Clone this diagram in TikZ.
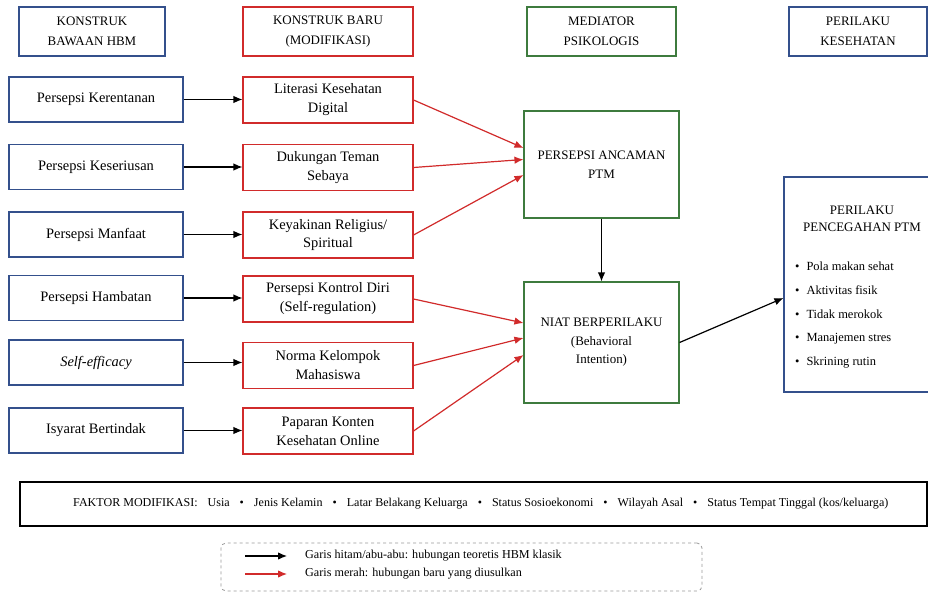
\documentclass[tikz,border=0pt]{standalone}
\usepackage{fontspec}
\setmainfont{Liberation Serif}
\usetikzlibrary{arrows.meta,calc}
\definecolor{cblue}{HTML}{34508C}
\definecolor{cred}{HTML}{D12B2B}
\definecolor{cgreen}{HTML}{3E7B3E}
\definecolor{cgray}{HTML}{9A9A9A}
\begin{document}
\begin{tikzpicture}[x=1bp,y=-1bp,
 box/.style={draw, line width=1.1bp, inner sep=2bp, align=center},
 hbox/.style={box, minimum height=49bp, font=\fontsize{13}{20}\selectfont},
 lbox/.style={box, draw=cblue, minimum width=174bp, minimum height=45bp, font=\fontsize{14.5}{19}\selectfont},
 rbox/.style={box, draw=cred, minimum width=170bp, minimum height=46bp, font=\fontsize{14.5}{19}\selectfont},
 mbox/.style={box, draw=cgreen, minimum width=155bp, font=\fontsize{13}{18.5}\selectfont},
 barr/.style={-{Latex[length=9bp,width=7.5bp]}, line width=1.2bp, black},
 rarr/.style={-{Latex[length=9bp,width=7.5bp]}, line width=1.2bp, cred},
]
\fill[white] (0,0) rectangle (928,592);
\useasboundingbox (0,0) rectangle (928,592);

% headers
\node[hbox, draw=cblue, minimum width=146bp] (h1) at (92,31.5) {KONSTRUK\\BAWAAN HBM};
\node[hbox, draw=cred, minimum width=170bp] (h2) at (328,31.5) {KONSTRUK BARU\\(MODIFIKASI)};
\node[hbox, draw=cgreen, minimum width=149bp] (h3) at (601.5,31.5) {MEDIATOR\\PSIKOLOGIS};
\node[hbox, draw=cblue, minimum width=138bp] (h4) at (858,31.5) {PERILAKU\\KESEHATAN};

% left column
\node[lbox] (l1) at (96,99.5) {Persepsi Kerentanan};
\node[lbox] (l2) at (96,167) {Persepsi Keseriusan};
\node[lbox] (l3) at (96,234.5) {Persepsi Manfaat};
\node[lbox] (l4) at (96,298) {Persepsi Hambatan};
\node[lbox] (l5) at (96,362.5) {\itshape Self-efficacy};
\node[lbox] (l6) at (96,430.5) {Isyarat Bertindak};

% red column
\node[rbox] (r1) at (328,100) {Literasi Kesehatan\\Digital};
\node[rbox] (r2) at (328,167.5) {Dukungan Teman\\Sebaya};
\node[rbox] (r3) at (328,235) {Keyakinan Religius/\\Spiritual};
\node[rbox] (r4) at (328,299) {Persepsi Kontrol Diri\\(Self-regulation)};
\node[rbox] (r5) at (328,365.5) {Norma Kelompok\\Mahasiswa};
\node[rbox] (r6) at (328,431) {Paparan Konten\\Kesehatan Online};

% mediators
\node[mbox, minimum height=107bp] (m1) at (601.5,164.5) {PERSEPSI ANCAMAN\\PTM};
\node[mbox, minimum height=121bp] (m2) at (601.5,342.5) {NIAT BERPERILAKU\\(Behavioral\\Intention)};

% outcome box (cut at right edge)
\begin{scope}
\clip (0,0) rectangle (928,592);
\node[draw=cblue, line width=1.1bp, minimum width=156bp, minimum height=215bp] (o) at (862,284.5) {};
\end{scope}
\node[align=center, font=\fontsize{13}{17}\selectfont] (ot) at (862,219) {PERILAKU\\PENCEGAHAN PTM};
\node[align=left, anchor=north west, inner sep=0pt, font=\fontsize{12.5}{23.7}\selectfont] (ol) at (795,262)
 {\textbullet\hspace{7bp}Pola makan sehat\\
  \textbullet\hspace{7bp}Aktivitas fisik\\
  \textbullet\hspace{7bp}Tidak merokok\\
  \textbullet\hspace{7bp}Manajemen stres\\
  \textbullet\hspace{7bp}Skrining rutin};

% black arrows left -> red
\foreach \i in {1,...,6} { \draw[barr] (l\i.east) -- (l\i.east -| r\i.west); }

% red arrows to mediators
\draw[rarr] (r1.east) -- ($(m1.west)+(0,-16.5)$);
\draw[rarr] (r2.east) -- ($(m1.west)+(0,-5)$);
\draw[rarr] (r3.east) -- ($(m1.west)+(0,10.5)$);
\draw[rarr] (r4.east) -- ($(m2.west)+(0,-19.5)$);
\draw[rarr] (r5.east) -- ($(m2.west)+(0,-4.5)$);
\draw[rarr] (r6.east) -- ($(m2.west)+(0,12.5)$);

\draw[barr] (m1.south) -- (m2.north);
\draw[barr] (m2.east) -- ($(o.west)+(0,13.5)$);

% modifying factors
\node[draw, line width=1.2bp, minimum width=907bp, minimum height=44bp] (f) at (473.5,504) {};
\node[anchor=west, inner sep=0pt, font=\fontsize{12.1}{14}\selectfont] (ft) at (73,504)
 {FAKTOR MODIFIKASI:\hspace{10bp}Usia\hspace{10bp}\textbullet\hspace{10bp}Jenis Kelamin\hspace{10bp}\textbullet\hspace{10bp}Latar Belakang Keluarga\hspace{10bp}\textbullet\hspace{10bp}Status Sosioekonomi\hspace{10bp}\textbullet\hspace{10bp}Wilayah Asal\hspace{10bp}\textbullet\hspace{10bp}Status Tempat Tinggal (kos/keluarga)};

% legend
\node[draw=cgray, dashed, rounded corners=5bp, line width=0.8bp, minimum width=481bp, minimum height=48bp] (lg) at (461.5,567) {};
\coordinate (ka) at (245,556);
\coordinate (kb) at (287,556);
\coordinate (kc) at (245,574);
\coordinate (kd) at (287,574);
\draw[barr] (ka) -- (kb);
\draw[rarr] (kc) -- (kd);
\node[anchor=west, inner sep=0pt, font=\fontsize{12.2}{14}\selectfont] (lt1) at (305,556) {Garis hitam/abu-abu: hubungan teoretis HBM klasik};
\node[anchor=west, inner sep=0pt, font=\fontsize{12.2}{14}\selectfont] (lt2) at (305,574) {Garis merah: hubungan baru yang diusulkan};
\end{tikzpicture}
\end{document}
